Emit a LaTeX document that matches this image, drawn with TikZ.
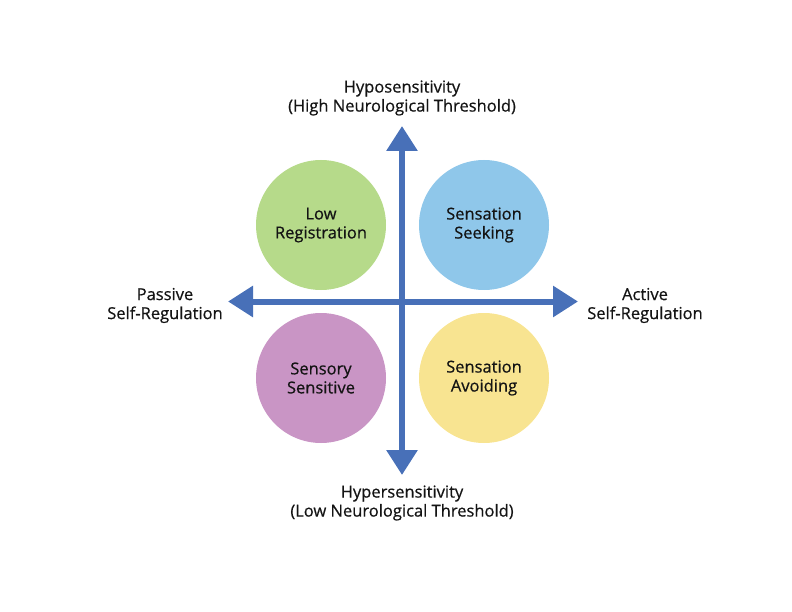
\documentclass[tikz,border=0pt]{standalone}
\usepackage{fontspec}
\setmainfont{Open Sans}
\newfontfamily\labelfont[FakeBold=0.6]{Open Sans}
\usetikzlibrary{arrows.meta}
\definecolor{axisblue}{RGB}{72,112,184}
\definecolor{lowgreen}{RGB}{182,218,138}
\definecolor{seekblue}{RGB}{143,199,234}
\definecolor{sensepurple}{RGB}{201,149,197}
\definecolor{avoidyellow}{RGB}{248,228,145}
\definecolor{labelblack}{RGB}{20,20,20}
\tikzset{
quadrant/.style={
	  circle, minimum size=130pt, inner sep=0pt, align=center,
	    text=labelblack, font=\labelfont\fontsize{16.5}{19}\selectfont},
axis/.style={
	  draw=axisblue, line width=6pt,
	    {Triangle[length=25pt,width=30pt]}-{Triangle[length=25pt,width=30pt]}},
axislabel/.style={
	  align=center, text=labelblack, font=\labelfont\fontsize{16.5}{19}\selectfont}
}

\begin{document}
\begin{tikzpicture}[x=1pt, y=-1pt]
	\useasboundingbox (0,0) rectangle (792,612);
	\node[quadrant, fill=lowgreen] (low) at (321,225) {Low\\Registration};
	\node[quadrant, fill=seekblue] (seeking) at (484,225) {Sensation\\Seeking};
	\node[quadrant, fill=sensepurple] (sensitive) at (321,378) {Sensory\\Sensitive};
	\node[quadrant, fill=avoidyellow] (avoiding) at (484,378) {Sensation\\Avoiding};
	\coordinate (top) at (402,126);
	\coordinate (bottom) at (402,475);
	\coordinate (west) at (228,301.5);
	\coordinate (east) at (578,301.5);
	\draw[axis] (bottom) -- (top);
	\draw[axis] (west) -- (east);
	\node[axislabel] (hypo) at (402,98) {Hyposensitivity\\(High Neurological Threshold)};
	\node[axislabel] (hyper) at (402,503) {Hypersensitivity\\(Low Neurological Threshold)};
	\node[axislabel] (passive) at (165,305.5) {Passive\\Self-Regulation};
	\node[axislabel] (active) at (645,305.5) {Active\\Self-Regulation};
\end{tikzpicture}
\end{document}
